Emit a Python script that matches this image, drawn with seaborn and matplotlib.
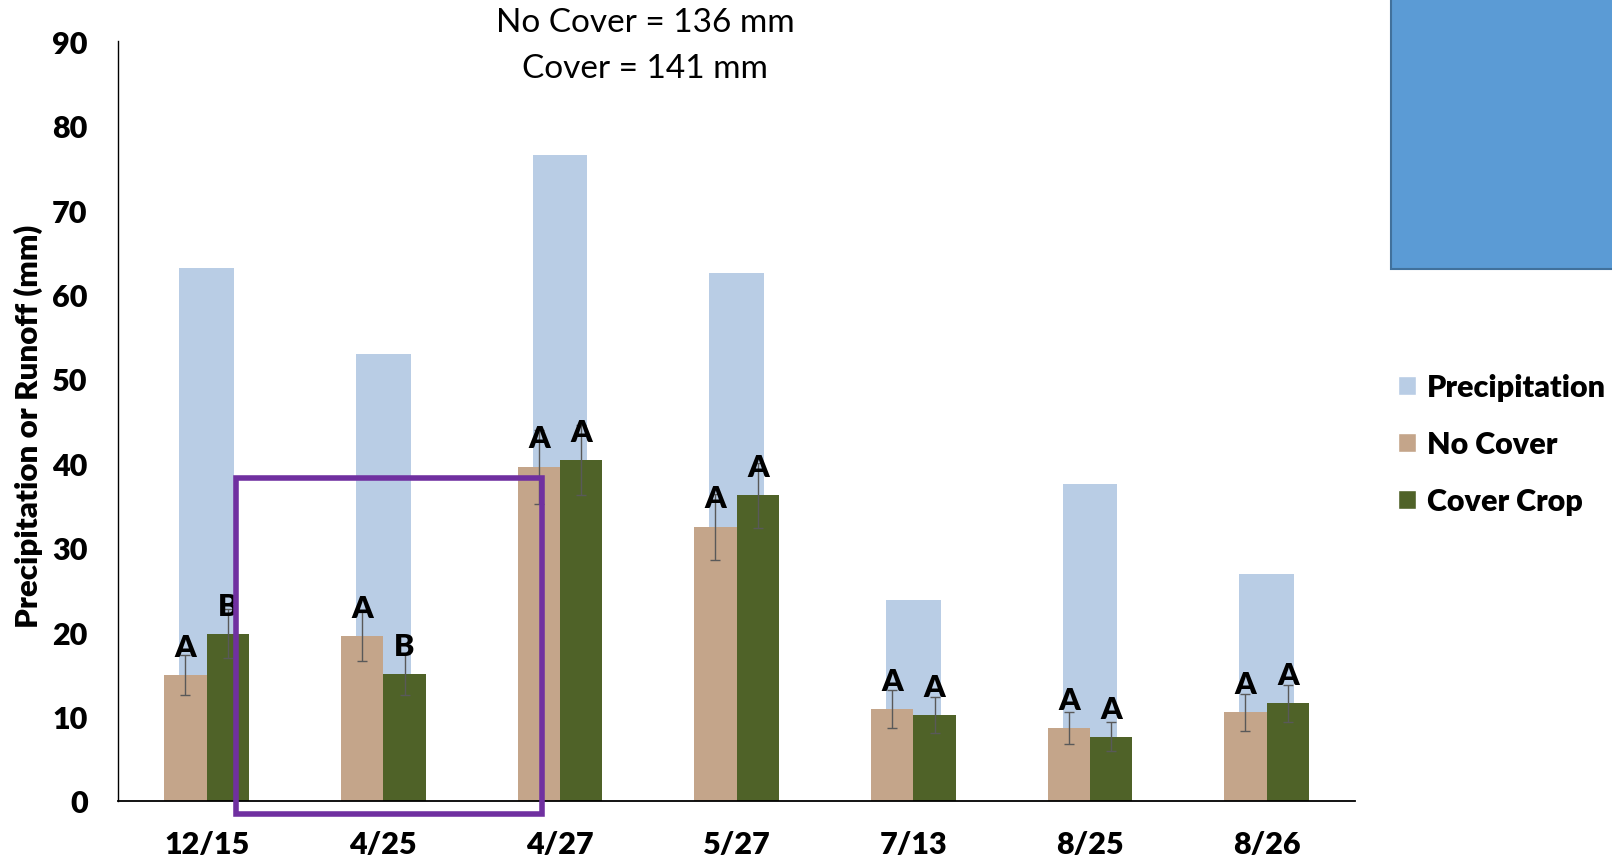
import numpy as np
import pandas as pd
import matplotlib
matplotlib.use("Agg")
import matplotlib.pyplot as plt
import seaborn as sns
from matplotlib.patches import Patch, Rectangle

# values (mm)
dates = ["12/15", "4/25", "4/27", "5/27", "7/13", "8/25", "8/26"]
precip = [63.2, 52.9, 76.5, 62.6, 23.8, 37.6, 26.9]
no_cover = [14.9, 19.5, 39.6, 32.5, 10.9, 8.6, 10.5]
cover_crop = [19.8, 15.0, 40.4, 36.2, 10.2, 7.6, 11.6]
no_cover_err = [2.4, 2.9, 4.4, 3.9, 2.2, 1.9, 2.2]
cover_crop_err = [2.9, 2.4, 4.2, 3.9, 2.1, 1.7, 2.2]
no_cover_letters = ["A", "A", "A", "A", "A", "A", "A"]
cover_crop_letters = ["B", "B", "A", "A", "A", "A", "A"]
series = ["No Cover", "Cover Crop"]
total_no_cover = 136
total_cover = 141

c_precip = "#B9CDE5"
c_nocover = "#C4A58A"
c_cover = "#4F6228"
W = "heavy"

sns.set_style("white")
plt.rcParams["font.family"] = ["Lato", "DejaVu Sans"]
for k in ["text.color", "axes.labelcolor", "xtick.color", "ytick.color"]:
    plt.rcParams[k] = "black"

runoff = pd.DataFrame({
    "date": dates * 2,
    "treatment": [series[0]] * len(dates) + [series[1]] * len(dates),
    "runoff": no_cover + cover_crop,
})

fig = plt.figure(figsize=(16.12, 8.62), dpi=100)
ax = fig.add_axes([118.3 / 1612, 60 / 862, (1355 - 118.3) / 1612, (802 - 42.3) / 862])

# precipitation behind, narrower
sns.barplot(x=dates, y=precip, order=dates, color=c_precip, width=0.31,
            saturation=1, linewidth=0, ax=ax)
# runoff pair
sns.barplot(data=runoff, x="date", y="runoff", hue="treatment", order=dates,
            hue_order=series, palette=[c_nocover, c_cover], width=0.48,
            saturation=1, linewidth=0, legend=False, ax=ax)

pos = np.arange(len(dates))
for off, vals, errs, letters in [(-0.12, no_cover, no_cover_err, no_cover_letters),
                                 (0.12, cover_crop, cover_crop_err, cover_crop_letters)]:
    ax.errorbar(pos + off, vals, yerr=errs, fmt="none", ecolor="#595959",
                elinewidth=1, capsize=3.5, capthick=1, zorder=5)
    for x, v, t in zip(pos + off, vals, letters):
        ax.annotate(t, (x, v), xytext=(0, 13.9), textcoords="offset points",
                    ha="center", va="baseline", fontsize=22, fontweight=W,
                    zorder=6)

ax.set_xlim(-0.5, len(dates) - 0.5)
ax.set_ylim(0, 90)
ax.set_yticks(range(0, 91, 10))
ax.set_xlabel("")
ax.set_ylabel("")
ax.tick_params(axis="y", direction="in", length=8, width=1, pad=22,
               labelsize=22, color="#404040")
ax.tick_params(axis="x", length=0, pad=21, labelsize=22)
for lbl in ax.get_xticklabels() + ax.get_yticklabels():
    lbl.set_fontweight(W)
sns.despine(ax=ax)
ax.spines["left"].set_color("black")
ax.spines["left"].set_linewidth(1)
ax.spines["bottom"].set_color("black")
ax.spines["bottom"].set_linewidth(1.3)

# highlight box
ax.add_patch(Rectangle((0.165, -1.5), 1.735, 39.8, fill=False,
                       edgecolor="#7030A0", linewidth=4, clip_on=False, zorder=7))

fig.text(28 / 1612, 0.505, "Precipitation or Runoff (mm)", rotation=90,
         ha="center", va="center", fontsize=22.5, fontweight=W)
fig.text(645 / 1612, 1 - 23 / 862, f"No Cover = {total_no_cover} mm",
         ha="center", va="center", fontsize=24)
fig.text(645 / 1612, 1 - 69 / 862, f"Cover = {total_cover} mm",
         ha="center", va="center", fontsize=24)

# stray shape in the top-right corner
fig.add_artist(Rectangle((1391 / 1612, 1 - 270 / 862), 0.2, 0.4,
                         transform=fig.transFigure, facecolor="#5B9BD5",
                         edgecolor="#41719C", linewidth=1.5))

handles = [Patch(facecolor=c_precip, label="Precipitation"),
           Patch(facecolor=c_nocover, label=series[0]),
           Patch(facecolor=c_cover, label=series[1])]
leg = fig.legend(handles=handles, loc="center left",
                 bbox_to_anchor=(1398 / 1612, 1 - 445 / 862), frameon=False,
                 prop={"size": 22, "weight": W}, handlelength=0.6,
                 handleheight=0.6, handletextpad=0.35, labelspacing=0.95,
                 borderpad=0, borderaxespad=0)

fig.savefig("out.png", dpi=100)
